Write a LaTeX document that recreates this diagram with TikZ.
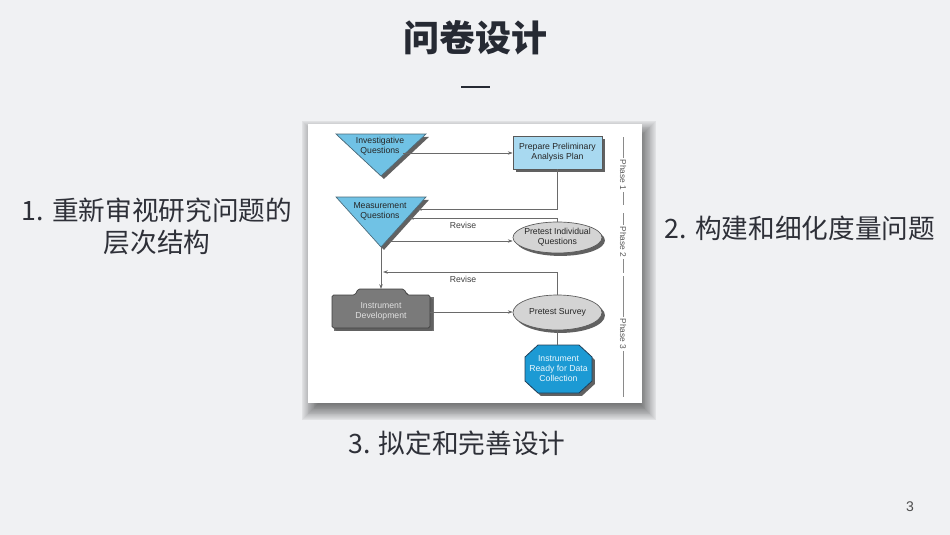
\documentclass[tikz,border=0pt]{standalone}
\usepackage{fontspec}
\setmainfont{Liberation Sans}
\newfontfamily\cjk{Noto Sans CJK SC}
\usetikzlibrary{shadows,arrows.meta,shapes.geometric}
\definecolor{bg}{HTML}{F0F1F3}
\definecolor{titlec}{HTML}{262A33}
\definecolor{bodyc}{HTML}{2E3038}
\definecolor{tric}{HTML}{70C2E5}
\definecolor{triedge}{HTML}{4C6C7C}
\definecolor{boxc}{HTML}{A8D9F0}
\definecolor{ellc}{HTML}{D4D4D4}
\definecolor{idc}{HTML}{7A7A7A}
\definecolor{octc}{HTML}{1C9AD4}
\definecolor{octedge}{HTML}{20405A}
\definecolor{linec}{HTML}{6A6A6A}
\definecolor{phasec}{HTML}{8A8A8A}
\tikzset{
  shp/.style={drop shadow={shadow xshift=2.2pt,shadow yshift=-2.2pt,fill=black!62,opacity=1}},
  small/.style={font=\fontsize{6.5}{7.5}\selectfont,align=center,inner sep=1pt},
  arr/.style={draw=linec,line width=0.5pt,-{Stealth[length=3.6pt,width=2.6pt]}},
  plain/.style={draw=linec,line width=0.5pt},
  phase/.style={font=\fontsize{6.3}{7}\selectfont,text=black!65,rotate=-90,inner sep=1pt},
  pline/.style={draw=phasec,line width=0.45pt},
  ellshape/.style={ellipse,draw=black!65,fill=ellc,line width=0.5pt,shp,inner sep=0pt},
  cjktext/.style={font=\cjk\fontsize{20}{24}\selectfont,text=bodyc,align=center}
}
\begin{document}
\begin{tikzpicture}[x=0.75pt,y=-0.75pt]
\useasboundingbox (0,0) rectangle (950,535);
\fill[bg] (0,0) rectangle (950,535);
% title
\node[font=\cjk\bfseries\fontsize{27}{32}\selectfont,text=titlec] (title) at (475,38) {问卷设计};
\coordinate (ul1) at (461,87);
\coordinate (ul2) at (490,87);
\draw[titlec,line width=1.4pt] (ul1) -- (ul2);
% side texts
\node[cjktext] (t1) at (157,226) {1. 重新审视研究问题的\\层次结构};
\node[cjktext] (t2) at (800,228) {2. 构建和细化度量问题};
\node[cjktext] (t3) at (457,443) {3. 拟定和完善设计};
\node[font=\fontsize{10.5}{12}\selectfont,text=black!70] (pg) at (910,507) {3};
% panel shadow (soft, offset down-right)
\foreach \i in {1,...,24}{
  \pgfmathsetmacro\e{-10+\i*0.85}
  \pgfmathsetmacro\xa{312-\e}
  \pgfmathsetmacro\ya{131-\e}
  \pgfmathsetmacro\xb{646+\e}
  \pgfmathsetmacro\yb{410+\e}
  \fill[black,opacity=0.03] (\xa,\ya) rectangle (\xb,\yb);
}
\fill[white] (308,124) rectangle (642,403);
% Investigative triangle
\filldraw[fill=tric,draw=triedge,line width=0.5pt,shp] (336,134) -- (426,134) -- (381,176) -- cycle;
\node[small,text=black!85] (iq) at (380,146) {Investigative\\Questions};
% Prepare box
\node[draw=black!65,fill=boxc,line width=0.5pt,shp,minimum width=66.75pt,minimum height=24.75pt,small,text=black!85] (pp) at (557.5,152.5) {Prepare Preliminary\\Analysis Plan};
% Measurement triangle
\filldraw[fill=tric,draw=triedge,line width=0.5pt,shp] (336,197) -- (426,197) -- (381,247) -- cycle;
\node[small,text=black!85] (mq) at (380,211) {Measurement\\Questions};
% Pretest individual
\node[ellshape,minimum width=66.75pt,minimum height=23.25pt] (pi) at (557.5,237.5) {};
\node[small,text=black!85] (pit) at (557.5,237.5) {Pretest Individual\\Questions};
% Instrument development folder
\filldraw[fill=idc,draw=black!55,line width=0.4pt] (334,297) rectangle (433,330);
\filldraw[fill=idc,draw=black!75,line width=0.5pt,rounded corners=1.2pt,shp]
  (332,295) -- (355,295) -- (358,289) -- (404,289) -- (407,295) -- (430,295) -- (430,328) -- (332,328) -- cycle;
\node[small,text=black!12] (id) at (381,311) {Instrument\\Development};
% Pretest survey
\node[ellshape,minimum width=66.75pt,minimum height=26.25pt] (ps) at (557.5,312.5) {};
\node[small,text=black!85] (pst) at (557.5,312.5) {Pretest Survey};
% Octagon
\filldraw[fill=octc,draw=octedge,line width=0.6pt,shp]
  (538,345) -- (579,345) -- (592,357) -- (592,381) -- (579,393) -- (538,393) -- (525,381) -- (525,357) -- cycle;
\node[small,text=white!92!cyan] (rd) at (558.5,369) {Instrument\\Ready for Data\\Collection};
% connectors
\coordinate (iqr) at (403,153);
\coordinate (mqa) at (417,209);
\coordinate (mqb) at (409,218);
\coordinate (mqc) at (389,241);
\coordinate (mqapex) at (381,247);
\coordinate (idtop) at (381,289);
\coordinate (vl) at (383,272);
\coordinate (idr) at (430,312);
\coordinate (rdtop) at (557.5,345);
\draw[arr] (iqr) -- (iqr -| pp.west);
\draw[arr] (pp.south) |- (mqa);
\draw[arr] (pi.north) |- (mqb);
\draw[arr] (mqc) -- (mqc -| pi.west);
\draw[arr] (mqapex) -- (idtop);
\draw[arr] (ps.north) |- (vl);
\draw[arr] (idr) -- (idr -| ps.west);
\draw[plain] (ps.south) -- (rdtop);
\node[small,text=black!75] (rev1) at (463,225) {Revise};
\node[small,text=black!75] (rev2) at (463,279) {Revise};
% phases
\node[phase] (ph1) at (623,175) {Phase 1};
\node[phase] (ph2) at (623,242) {Phase 2};
\node[phase] (ph3) at (623,334) {Phase 3};
\coordinate (p1a) at (623,137);
\coordinate (p1b) at (623,205);
\coordinate (p2a) at (623,213);
\coordinate (p2b) at (623,273);
\coordinate (p3a) at (623,276);
\coordinate (p3b) at (623,397);
\draw[pline] (p1a) -- (ph1.west);
\draw[pline] (ph1.east) -- (p1b);
\draw[pline] (p2a) -- (ph2.west);
\draw[pline] (ph2.east) -- (p2b);
\draw[pline] (p3a) -- (ph3.west);
\draw[pline] (ph3.east) -- (p3b);
\end{tikzpicture}
\end{document}
